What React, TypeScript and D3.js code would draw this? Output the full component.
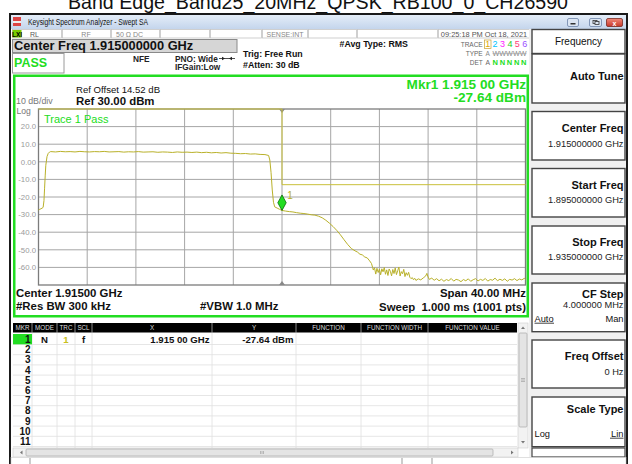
import React from "react";
import * as d3 from "d3";

const FONT = "'Liberation Sans', Arial, Helvetica, sans-serif";

// ---------- data ----------
const chartTitle = "Band Edge_Band25_20MHz_QPSK_RB100_0_CH26590";
const startGHz = 1.895;
const stopGHz = 1.935;
const centerGHz = 1.915;
const refLevelDbm = 30;
const dbPerDiv = 10;
const xDivisions = 10;
const yDivisions = 10;
const yTickValues = [20, 10, 0, -10, -20, -30, -40, -50, -60];
const yTickLabels = ["20.0", "10.0", "0.00", "-10.0", "-20.0", "-30.0", "-40.0", "-50.0", "-60.0"];

// [offset from start freq in MHz, level in dBm]
const trace1: [number, number][] = [
  [0.0, -27.4], [0.1, -27.0], [0.2, -26.7], [0.3, -26.3], [0.38, -25.9], [0.45, -22], [0.5, -15], [0.55, -8],
  [0.6, -2], [0.7, 3.0], [0.8, 4.8], [0.9, 5.5], [1.0, 5.8], [1.4, 5.6], [1.8, 5.9], [2.2, 5.7], [2.6, 5.8],
  [3.0, 5.6], [3.4, 5.9], [3.8, 5.7], [4.2, 5.6], [4.6, 5.8], [5.0, 5.7], [5.4, 5.9], [5.8, 5.6], [6.2, 5.7],
  [6.6, 5.8], [7.0, 5.5], [7.4, 5.7], [7.8, 5.6], [8.2, 5.8], [8.6, 5.5], [9.0, 5.6], [9.4, 5.7], [9.8, 5.4],
  [10.2, 5.6], [10.6, 5.5], [11.0, 5.3], [11.4, 5.6], [11.8, 5.4], [12.2, 5.5], [12.6, 5.3], [13.0, 5.5],
  [13.4, 5.2], [13.8, 5.4], [14.2, 5.1], [14.6, 5.3], [15.0, 5.0], [15.4, 5.2], [15.8, 4.9], [16.2, 4.8],
  [16.6, 4.6], [17.0, 4.7], [17.4, 4.4], [17.8, 4.5], [18.2, 4.2], [18.6, 4.1], [18.9, 3.6], [19.0, 1.0],
  [19.1, -6], [19.2, -16], [19.3, -23], [19.4, -25.6], [19.6, -26.3], [19.8, -27.0], [20.0, -27.64],
  [20.3, -28.0], [20.6, -28.3], [20.9, -28.5], [21.2, -28.9], [21.5, -29.2], [21.8, -29.4], [22.1, -29.7],
  [22.4, -30.1], [22.7, -30.3], [23.0, -30.9], [23.3, -31.8], [23.6, -33.2], [23.9, -34.9], [24.2, -36.8],
  [24.5, -39.0], [24.8, -41.5], [25.1, -44.3], [25.4, -47.0], [25.7, -49.3], [26.0, -50.6], [26.2, -51.3],
  [26.4, -52.5], [26.6, -52.9], [26.8, -54.1], [27.0, -54.6], [27.2, -56.3], [27.35, -57.8], [27.45, -60.2],
  [27.5, -61.5], [27.6, -60.2], [27.7, -63.8], [27.8, -60.5], [27.9, -62.9], [28.0, -61.0], [28.1, -64.2],
  [28.2, -60.8], [28.3, -62.5], [28.4, -60.1], [28.5, -63.9], [28.6, -61.4], [28.7, -64.6], [28.8, -60.9],
  [28.9, -62.2], [29.0, -64.8], [29.1, -61.2], [29.2, -63.5], [29.3, -60.3], [29.4, -64.1], [29.5, -61.9],
  [29.6, -59.8], [29.7, -64.9], [29.8, -62.4], [29.9, -63.6], [30.0, -61.1], [30.1, -65.2], [30.2, -63.0],
  [30.3, -64.5], [30.4, -62.8], [30.5, -65.6], [30.6, -66.4], [30.7, -65.8], [30.8, -67.0], [30.9, -66.2],
  [31.0, -67.4], [31.2, -66.5], [31.4, -67.1], [31.6, -66.0], [31.8, -64.9], [31.9, -63.4], [32.0, -65.5],
  [32.1, -66.8], [32.3, -66.1], [32.5, -67.3], [32.7, -66.4], [32.9, -67.6], [33.1, -66.7], [33.3, -67.9],
  [33.5, -66.9], [33.7, -67.5], [33.9, -66.3], [34.1, -67.8], [34.3, -66.8], [34.5, -67.2], [34.7, -68.1],
  [34.9, -66.9], [35.1, -67.6], [35.3, -66.5], [35.5, -67.9], [35.7, -67.0], [35.9, -66.4], [36.1, -67.7],
  [36.3, -66.8], [36.5, -67.4], [36.7, -66.3], [36.9, -67.8], [37.1, -66.9], [37.3, -67.3], [37.5, -66.1],
  [37.7, -67.6], [37.9, -66.7], [38.1, -67.4], [38.3, -66.5], [38.5, -67.9], [38.7, -66.8], [38.9, -67.2],
  [39.1, -66.4], [39.3, -67.5], [39.5, -66.6], [39.7, -67.1], [39.9, -66.2], [40.0, -66.8],
];

const limitLine: [number, number][] = [[0, 30], [20, 30], [20, -13], [40, -13]];
const marker1 = { offsetMHz: 20, dbm: -27.64, label: "1" };
const markerRowLabels = ["1", "2", "3", "4", "5", "6", "7", "8", "9", "10", "11"];
const tableHeaders = ["MKR", "MODE", "TRC", "SCL", "X", "Y", "FUNCTION", "FUNCTION WIDTH", "FUNCTION VALUE"];
const marker1Row = { mode: "N", trc: "1", scl: "f", x: "1.915 00 GHz", y: "-27.64 dBm" };
const traceDigits = ["1", "2", "3", "4", "5", "6"];
const traceDigitColors = ["#e0a800", "#00c4ff", "#ff22ff", "#22cc22", "#ff3c78", "#9a50ff"];
const softkeyLabels = ["Auto Tune", "Center Freq", "Start Freq", "Stop Freq", "CF Step", "Freq Offset", "Scale Type"];
const softkeyValues = ["", "1.915000000 GHz", "1.895000000 GHz", "1.935000000 GHz", "4.000000 MHz", "0 Hz", ""];
const statusCells = ["RL", "RF", "50 Ω   DC", "", "", "SENSE:INT", "", "", "09:25:18 PM Oct 18, 2021"];

// ---------- layout ----------
const PL = 38.5, PR = 525.5, PT = 109, PB = 285;
const GREEN = "#22dd22";
const TRACE = "#b9b12a";

export default function App() {
  const x = d3.scaleLinear().domain([startGHz, stopGHz]).range([PL, PR]);
  const y = d3.scaleLinear().domain([refLevelDbm - dbPerDiv * yDivisions, refLevelDbm]).range([PB, PT]);
  const fx = (mhz: number) => x(startGHz + mhz / 1000);
  const line = d3.line<[number, number]>().x(d => fx(d[0])).y(d => y(d[1]));
  const spanGHz = stopGHz - startGHz;
  const xGrid = d3.range(1, xDivisions).map(i => x(startGHz + (i * spanGHz) / xDivisions));
  const yGrid = d3.range(1, yDivisions).map(j => y(refLevelDbm - j * dbPerDiv));
  const cx = x(centerGHz);
  const mx = fx(marker1.offsetMHz);
  const my = y(marker1.dbm);

  const statusEdges = [12, 62, 111, 160, 210, 262, 308, 357, 438, 530];
  const colEdges = [13, 32, 57, 75, 92, 212, 296, 361, 428, 517];
  const rowH = 10.2;
  const keyTops = [54, 111.5, 168.5, 226, 283, 340, 397];
  const keyH = [49, 48.5, 48.5, 48, 48.7, 48, 49.7];
  const labelDy = [26, 20.2, 20.8, 20, 15.3, 20, 15.7];
  const valueDy = [0, 35.2, 34.8, 34, 25.3, 35, 0];

  return (
    <svg width={632} height={464} style={{ position: "absolute", left: 0, top: 0, background: "#fff" }} fontFamily={FONT}>
      <rect x={0} y={0} width={632} height={464} fill="#fff" />
      {/* Title */}
      <text x={318} y={9.3} fontSize={19.6} textAnchor="middle" fill="#111">{chartTitle}</text>

      {/* window frame */}
      <rect x={10} y={14} width={617} height={452} fill="#fff" stroke="#1a1a1a" strokeWidth={2} />
      <defs>
        <linearGradient id="tb" x1="0" y1="0" x2="0" y2="1">
          <stop offset="0" stopColor="#e4edf8" />
          <stop offset="1" stopColor="#c4d5ec" />
        </linearGradient>
        <linearGradient id="cb" x1="0" y1="0" x2="0" y2="1">
          <stop offset="0" stopColor="#f08a7a" />
          <stop offset="1" stopColor="#c8382a" />
        </linearGradient>
      </defs>
      <rect x={11} y={15} width={615} height={14} fill="url(#tb)" />
      <rect x={13} y={17} width={8} height={9} fill="#d44" />
      <rect x={13} y={21} width={8} height={2} fill="#eee" />
      <text x={28} y={24.5} fontSize={8.5} fill="#111" textLength={120} lengthAdjust="spacingAndGlyphs">Keysight Spectrum Analyzer - Swept SA</text>
      <rect x={567.5} y={18.5} width={11} height={8} rx={1.5} fill="#dbe5f2" stroke="#6d84a8" strokeWidth={0.8} />
      <rect x={570.5} y={23} width={5} height={1.5} fill="#333" />
      <rect x={589.5} y={18.5} width={12} height={8} rx={1.5} fill="#dbe5f2" stroke="#6d84a8" strokeWidth={0.8} />
      <rect x={593} y={20.5} width={4} height={3} fill="none" stroke="#333" strokeWidth={0.8} />
      <rect x={595} y={21.5} width={4} height={3} fill="#dbe5f2" stroke="#333" strokeWidth={0.8} />
      <rect x={606.5} y={18.5} width={16} height={8} rx={1.5} fill="url(#cb)" stroke="#7a2a22" strokeWidth={0.8} />
      <text x={614.5} y={25.5} fontSize={7} fontWeight="bold" fill="#fff" textAnchor="middle">x</text>

      {/* status row */}
      <rect x={11} y={29} width={520} height={9.5} fill="#fff" />
      {statusEdges.slice(0, -1).map((e, i) => (
        <rect key={i} x={e + 0.5} y={29.5} width={statusEdges[i + 1] - e - 1} height={8.5} fill="#fff" stroke="#c4c4c4" strokeWidth={0.8} />
      ))}
      <rect x={12.5} y={30} width={9} height={7.5} fill="#7ccc00" />
      <text x={17} y={36.5} fontSize={6.5} fontWeight="bold" textAnchor="middle" fill="#000">LXI</text>
      <text x={30} y={36.5} fontSize={7} fill="#555">{statusCells[0]}</text>
      <text x={86} y={36.5} fontSize={7} fill="#888" textAnchor="middle">{statusCells[1]}</text>
      <text x={116} y={36.5} fontSize={7} fill="#888">{statusCells[2]}</text>
      <text x={285} y={36.5} fontSize={7} fill="#888" textAnchor="middle">{statusCells[5]}</text>
      <text x={484} y={36.5} fontSize={7.4} fill="#555" textAnchor="middle">{statusCells[8]}</text>

      {/* softkey panel */}
      <rect x={529} y={29} width={97} height={428} fill="#f0f0f0" />
      <rect x={532} y={29.5} width={93} height={24} fill="#fff" stroke="#444" strokeWidth={1.4} />
      <text x={578.5} y={44.5} fontSize={10} fill="#111" textAnchor="middle">Frequency</text>
      {softkeyLabels.map((lab, i) => (
        <g key={lab}>
          <rect x={532} y={keyTops[i]} width={93} height={keyH[i]} fill="#fff" stroke="#444" strokeWidth={1.4} />
          <text x={623.5} y={keyTops[i] + labelDy[i]} fontSize={11} fontWeight="bold" textAnchor="end" fill="#111">{lab}</text>
          {softkeyValues[i] && (
            <text x={623.5} y={keyTops[i] + valueDy[i]} fontSize={9.3} textAnchor="end" fill="#222">{softkeyValues[i]}</text>
          )}
        </g>
      ))}
      <rect x={532} y={448} width={93} height={9} fill="#fff" stroke="#444" strokeWidth={1.2} />
      <text x={534.5} y={321.7} fontSize={9.3} fill="#111">Auto</text>
      <line x1={534.5} x2={554} y1={323.2} y2={323.2} stroke="#111" strokeWidth={0.8} />
      <text x={623.5} y={321.7} fontSize={9.3} fill="#111" textAnchor="end">Man</text>
      <text x={534.5} y={436.7} fontSize={9.3} fill="#111">Log</text>
      <text x={623.5} y={436.7} fontSize={9.3} fill="#111" textAnchor="end">Lin</text>
      <line x1={610} x2={623.5} y1={438.2} y2={438.2} stroke="#111" strokeWidth={0.8} />

      {/* center freq box + pass */}
      <rect x={12.5} y={39.5} width={224.5} height={13} fill="#d6d6d6" stroke="#8a8a8a" strokeWidth={1} />
      <text x={14} y={50.3} fontSize={12.8} fontWeight="bold" fill="#111">Center Freq 1.915000000 GHz</text>
      <rect x={12.5} y={53.5} width={51.5} height={19.5} fill="#fff" stroke="#9a9a9a" strokeWidth={1} />
      <text x={14} y={66.8} fontSize={12.5} fontWeight="bold" fill={GREEN}>PASS</text>

      {/* settings text */}
      <text x={133} y={61.5} fontSize={8.3} fontWeight="bold" fill="#222">NFE</text>
      <text x={175} y={61.5} fontSize={8.3} fontWeight="bold" fill="#222">PNO: Wide</text>
      <line x1={219} x2={235} y1={58.5} y2={58.5} stroke="#222" strokeWidth={0.8} />
      <path d="M222,56.8 L225,58.5 L222,60.2 Z M232,56.8 L229,58.5 L232,60.2 Z" fill="#222" />
      <text x={175} y={70.3} fontSize={8.3} fontWeight="bold" fill="#222">IFGain:Low</text>
      <text x={243} y={57} fontSize={8.8} fontWeight="bold" fill="#111">Trig: Free Run</text>
      <text x={243} y={67.8} fontSize={8.8} fontWeight="bold" fill="#111">#Atten: 30 dB</text>
      <text x={339.5} y={47.3} fontSize={8.8} fontWeight="bold" fill="#111">#Avg Type: RMS</text>
      <text x={482.7} y={47.3} fontSize={6.5} fill="#666" textAnchor="end">TRACE</text>
      <text x={482.7} y={56} fontSize={6.5} fill="#666" textAnchor="end">TYPE</text>
      <text x={482.7} y={64.8} fontSize={6.5} fill="#666" textAnchor="end">DET</text>
      <rect x={484.5} y={40} width={6.5} height={8.5} fill="none" stroke="#c8a030" strokeWidth={0.7} />
      {traceDigits.map((d, i) => (
        <text key={d} x={487.7 + i * 7.4} y={47.3} fontSize={9} textAnchor="middle" fill={traceDigitColors[i]}>{d}</text>
      ))}
      <text x={485.5} y={56} fontSize={6.5} fill="#888">A</text>
      <text x={492.5} y={56} fontSize={6.5} fill="#888" textLength={34} lengthAdjust="spacingAndGlyphs">WWWWW</text>
      <line x1={492.5} x2={526.5} y1={53.6} y2={53.6} stroke="#999" strokeWidth={0.5} />
      <text x={485.5} y={64.8} fontSize={6.8} fill="#666">A</text>
      <text x={492.5} y={64.8} fontSize={7.5} fontWeight="bold" fill={GREEN} textLength={34} lengthAdjust="spacing">NNNNN</text>

      {/* green graph frame */}
      <rect x={14.25} y={75.75} width={513.5} height={240.5} fill="#fff" stroke={GREEN} strokeWidth={2.5} />
      <text x={526} y={89.3} fontSize={13.6} fontWeight="bold" fill={GREEN} textAnchor="end">Mkr1 1.915 00 GHz</text>
      <text x={526} y={102} fontSize={13.6} fontWeight="bold" fill={GREEN} textAnchor="end">-27.64 dBm</text>
      <text x={76} y={92.6} fontSize={9.6} fill="#111">Ref Offset 14.52 dB</text>
      <text x={76} y={104.5} fontSize={11.4} fontWeight="bold" fill="#111">Ref 30.00 dBm</text>
      <text x={16} y={104.2} fontSize={8.8} fill="#777">10 dB/div</text>
      <text x={16.5} y={113.6} fontSize={8.6} fill="#777">Log</text>

      {/* plot */}
      <rect x={PL} y={PT} width={PR - PL} height={PB - PT} fill="#fff" />
      {xGrid.map((gx, i) => (
        <line key={"vx" + i} x1={gx} x2={gx} y1={PT} y2={PB} stroke="#a6a6a6" strokeWidth={1} />
      ))}
      {yGrid.map((gy, i) => (
        <line key={"hy" + i} x1={PL} x2={PR} y1={gy} y2={gy} stroke="#a6a6a6" strokeWidth={1} />
      ))}
      <rect x={PL} y={PT} width={PR - PL} height={PB - PT} fill="none" stroke="#7c7c7c" strokeWidth={1.3} />
      {yTickValues.map((v, i) => (
        <text key={"yt" + i} x={36} y={y(v) + 2.8} fontSize={7.8} fill="#9a9a9a" textAnchor="end">{yTickLabels[i]}</text>
      ))}
      <path d={`M${cx - 3},${PT} L${cx + 3},${PT} L${cx},${PT + 4} Z`} fill="#888" />
      <path d={`M${cx - 3},${PB} L${cx + 3},${PB} L${cx},${PB - 4} Z`} fill="#888" />
      <path d={line(limitLine) || ""} fill="none" stroke="#c9c13a" strokeWidth={1} />
      <path d={line(trace1) || ""} fill="none" stroke={TRACE} strokeWidth={1} strokeLinejoin="round" />
      <text x={44} y={123.3} fontSize={11} fill={GREEN}>Trace 1 Pass</text>
      <path d={`M${mx},${my - 15.5} L${mx + 4.2},${my - 7.7} L${mx},${my} L${mx - 4.2},${my - 7.7} Z`} fill={GREEN} stroke="#0a6a0a" strokeWidth={0.8} />
      <text x={287.3} y={198.5} fontSize={10} fill={TRACE}>{marker1.label}</text>

      {/* bottom annotations */}
      <text x={16} y={297.4} fontSize={11.4} fontWeight="bold" fill="#111">Center 1.91500 GHz</text>
      <text x={16} y={310.3} fontSize={11.4} fontWeight="bold" fill="#111">#Res BW 300 kHz</text>
      <text x={200} y={310.3} fontSize={11.4} fontWeight="bold" fill="#111">#VBW 1.0 MHz</text>
      <text x={526} y={297.4} fontSize={11.4} fontWeight="bold" fill="#111" textAnchor="end">Span 40.00 MHz</text>
      <text x={526} y={310.8} fontSize={11.4} fontWeight="bold" fill="#111" textAnchor="end" xmlSpace="preserve">Sweep  1.000 ms (1001 pts)</text>

      {/* marker table */}
      <rect x={13} y={319} width={516} height={138} fill="#fff" />
      <rect x={13} y={323} width={504} height={9.5} fill="#000" />
      {colEdges.slice(1, -1).map((e, i) => (
        <line key={"ce" + i} x1={e} x2={e} y1={323} y2={332.5} stroke="#888" strokeWidth={1} />
      ))}
      {tableHeaders.map((h, i) => (
        <text key={h} x={(colEdges[i] + colEdges[i + 1]) / 2} y={330.3} fontSize={6.3} fill="#ddd" textAnchor="middle">{h}</text>
      ))}
      {markerRowLabels.map((r, i) => (
        <line key={"rl" + i} x1={13} x2={517} y1={344.5 + i * rowH} y2={344.5 + i * rowH} stroke="#e0e0e0" strokeWidth={0.8} />
      ))}
      {colEdges.slice(1, -1).map((e, i) => (
        <line key={"cb" + i} x1={e} x2={e} y1={332.5} y2={448} stroke="#e0e0e0" strokeWidth={0.8} />
      ))}
      <rect x={13} y={334} width={19} height={10.3} fill={GREEN} />
      {markerRowLabels.map((r, i) => (
        <text key={"rn" + i} x={30.5} y={343 + i * rowH} fontSize={10} fontWeight="bold" fill="#111" textAnchor="end">{r}</text>
      ))}
      <text x={44.5} y={343} fontSize={9.6} fontWeight="bold" fill="#111" textAnchor="middle">{marker1Row.mode}</text>
      <text x={66} y={343} fontSize={9.6} fontWeight="bold" fill="#c8c020" textAnchor="middle">{marker1Row.trc}</text>
      <text x={83.5} y={343} fontSize={9.6} fontWeight="bold" fill="#111" textAnchor="middle">{marker1Row.scl}</text>
      <text x={209.5} y={343} fontSize={9.6} fontWeight="bold" fill="#111" textAnchor="end">{marker1Row.x}</text>
      <text x={293.5} y={343} fontSize={9.6} fontWeight="bold" fill="#111" textAnchor="end">{marker1Row.y}</text>

      {/* vertical scrollbar */}
      <rect x={518} y={323} width={10} height={125} fill="#f2f2f2" stroke="#ccc" strokeWidth={0.6} />
      <path d="M521,329 L525,329 L523,326.5 Z" fill="#777" />
      <rect x={519} y={333} width={8} height={94} fill="#e4e4e4" stroke="#aaa" strokeWidth={0.7} rx={1} />
      <line x1={521} x2={525} y1={378.5} y2={378.5} stroke="#888" strokeWidth={0.5} />
      <line x1={521} x2={525} y1={380} y2={380} stroke="#888" strokeWidth={0.5} />
      <line x1={521} x2={525} y1={381.5} y2={381.5} stroke="#888" strokeWidth={0.5} />
      <path d="M521,441 L525,441 L523,443.5 Z" fill="#777" />
      {/* horizontal scrollbar */}
      <rect x={13} y={448} width={505} height={9} fill="#f2f2f2" stroke="#ccc" strokeWidth={0.6} />
      <path d="M20,452.5 L22.5,450.5 L22.5,454.5 Z" fill="#777" />
      <rect x={26} y={449} width={467} height={7} fill="#e4e4e4" stroke="#aaa" strokeWidth={0.7} rx={1} />
      <line x1={260.5} x2={260.5} y1={451} y2={454} stroke="#888" strokeWidth={0.5} />
      <line x1={262} x2={262} y1={451} y2={454} stroke="#888" strokeWidth={0.5} />
      <line x1={263.5} x2={263.5} y1={451} y2={454} stroke="#888" strokeWidth={0.5} />
      <path d="M511,450.5 L513.5,452.5 L511,454.5 Z" fill="#777" />

      {/* bottom status bar */}
      <rect x={11} y={457.5} width={615} height={7} fill="#fff" stroke="#ccc" strokeWidth={0.6} />
      <line x1={30} x2={30} y1={458} y2={464} stroke="#999" />
      <line x1={402} x2={402} y1={458} y2={464} stroke="#999" />
      <line x1={432} x2={432} y1={458} y2={464} stroke="#999" />
    </svg>
  );
}
